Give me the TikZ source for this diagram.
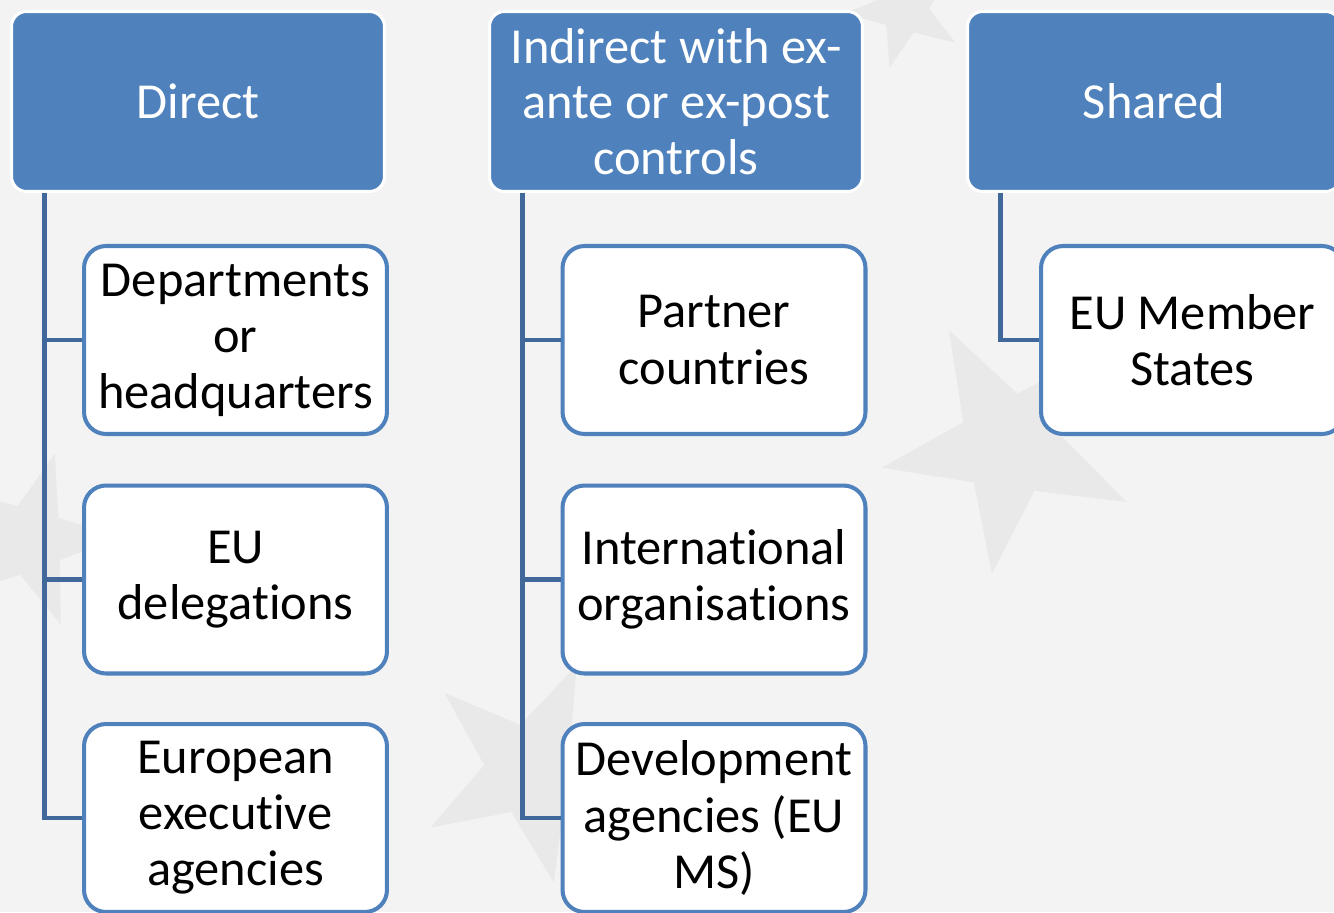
\documentclass[tikz,border=0pt]{standalone}
\usepackage{fontspec}
\setmainfont{Carlito}[RawFeature={-liga;-clig;-calt}]
\usetikzlibrary{calc}

\definecolor{hdrblue}{RGB}{79,129,189}
\definecolor{linkblue}{RGB}{64,104,155}
\definecolor{backgr}{RGB}{243,243,243}
\definecolor{starfill}{RGB}{233,233,233}

\tikzset{
    header/.style={draw=white, line width=1.7pt, fill=hdrblue, text=white,
        rounded corners=0.3cm, minimum width=7.46cm, minimum height=3.6cm,
        align=center, font=\fontsize{28.7}{31.6}\selectfont},
    member/.style={draw=hdrblue, line width=2.3pt, fill=white,
        rounded corners=0.44cm, minimum width=6.06cm, minimum height=3.76cm,
        align=center, font=\fontsize{28.7}{31.9}\selectfont},
    link/.style={draw=linkblue, line width=2.8pt}
}

% faint five-pointed star: centre x, centre y, radius, turn
\newcommand{\bgstar}[4]{%
    \fill[starfill, shift={(#1,#2)}, rotate=#4] (90:#3)
        -- (126:0.4*#3) -- (162:#3) -- (198:0.4*#3) -- (234:#3)
        -- (270:0.4*#3) -- (306:#3) -- (342:0.4*#3) -- (18:#3)
        -- (54:0.4*#3) -- cycle;}

\begin{document}
\begin{tikzpicture}[x=0.02cm, y=-0.02cm]
    \useasboundingbox (0, 0) rectangle (1334, 912);
    \clip (0, 0) rectangle (1334, 912);
    \fill[backgr] (0, 0) rectangle (1334, 912);

    % stars of the flag behind the chart
    \bgstar{1010}{445}{130}{-8}
    \bgstar{530}{770}{115}{12}
    \bgstar{30}{540}{90}{20}
    \bgstar{905}{10}{60}{-15}

    % the three kinds of management
    \node[header] (direct) at (198, 101.5) {Direct};
    \node[header] (indirect) at (676, 101.5) {Indirect with ex-\\ante or ex-post\\controls};
    \node[header] (shared) at (1154, 101.5) {Shared};

    % who carries them out
    \node[member] (dep) at (235.5, 340) {Departments\\or\\headquarters};
    \node[member] (deleg) at (235.5, 579.5) {EU\\delegations};
    \node[member] (exec) at (235.5, 818) {European\\executive\\agencies};

    \node[member] (partner) at (714, 340) {Partner\\countries};
    \node[member] (intorg) at (714, 579.5) {International\\organisations};
    \node[member] (devag) at (714, 818) {Development\\agencies (EU\\MS)};

    \node[member] (ms) at (1192.5, 340) {EU Member\\States};

    % branches
    \foreach \child in {dep, deleg, exec}
        \draw[link] ($(direct.south west)+(34, 0)$) |- (\child.west);
    \foreach \child in {partner, intorg, devag}
        \draw[link] ($(indirect.south west)+(34, 0)$) |- (\child.west);
    \draw[link] ($(shared.south west)+(34, 0)$) |- (ms.west);
\end{tikzpicture}
\end{document}
